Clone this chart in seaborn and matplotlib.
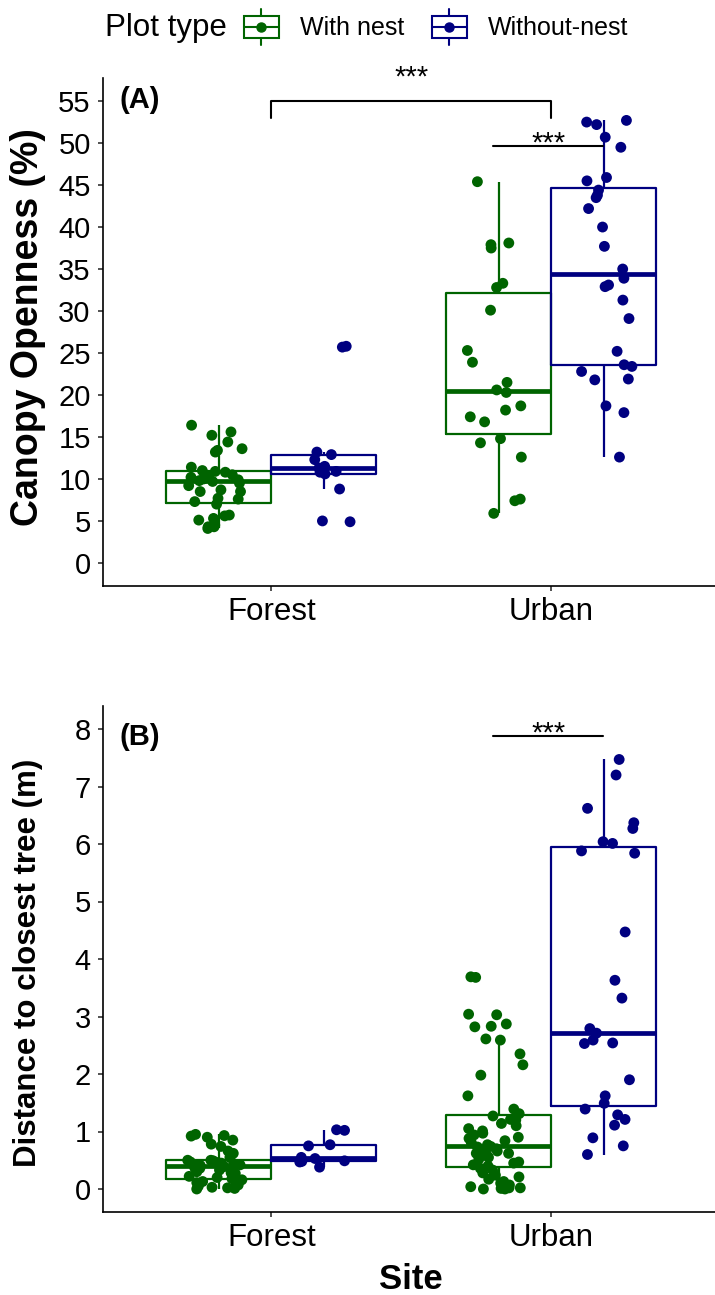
import numpy as np
import pandas as pd
import matplotlib
matplotlib.use("Agg")
import matplotlib.pyplot as plt
import seaborn as sns
from matplotlib.legend_handler import HandlerBase
from matplotlib.patches import Rectangle
from matplotlib.lines import Line2D

# ---- data -------------------------------------------------------------
sites = ["Forest", "Urban"]
plot_types = ["With nest", "Without-nest"]
type_colors = ["#006400", "#000080"]

# Canopy openness (%)
canopy_forest_nest = [16.4, 15.6, 15.2, 14.4, 13.6, 13.4, 13.2, 11.4, 11.0, 10.9,
                      10.8, 10.5, 10.3, 10.2, 10.0, 9.9, 9.8, 9.7, 9.5, 9.2,
                      8.7, 8.5, 8.5, 7.7, 7.6, 7.3, 7.0, 5.7, 5.6, 5.3,
                      5.1, 4.5, 4.3, 4.3, 4.1]
canopy_forest_nonest = [25.8, 25.7, 13.2, 12.9, 12.3, 11.5, 11.3, 10.9, 10.8,
                        10.6, 8.8, 5.0, 4.9]
canopy_urban_nest = [45.4, 38.1, 37.9, 37.5, 33.3, 32.8, 30.1, 25.3, 23.9, 21.5,
                     20.6, 20.3, 18.7, 18.2, 17.4, 16.8, 14.8, 14.3, 12.6, 7.6,
                     7.4, 5.9]
canopy_urban_nonest = [52.7, 52.5, 52.2, 50.7, 49.5, 45.9, 45.5, 44.4, 43.8, 43.5,
                       42.2, 40.0, 37.7, 35.0, 33.9, 33.1, 32.9, 31.3, 29.1, 25.2,
                       23.6, 23.4, 22.8, 21.9, 21.8, 18.7, 17.9, 12.6]

# Distance to closest tree (m)
dist_forest_nest = [0.95, 0.93, 0.92, 0.90, 0.85, 0.78, 0.74, 0.66, 0.62, 0.55,
                    0.50, 0.50, 0.49, 0.47, 0.46, 0.45, 0.44, 0.42, 0.42, 0.41,
                    0.39, 0.37, 0.36, 0.33, 0.30, 0.28, 0.27, 0.22, 0.20, 0.18,
                    0.16, 0.13, 0.11, 0.09, 0.07, 0.05, 0.03, 0.02, 0.01, 0.00]
dist_forest_nonest = [1.03, 1.02, 0.77, 0.75, 0.55, 0.53, 0.49, 0.48, 0.47, 0.38]
dist_urban_nest = [3.69, 3.68, 3.04, 3.03, 2.87, 2.83, 2.82, 2.61, 2.59, 2.35,
                   2.16, 1.98, 1.62, 1.39, 1.31, 1.27, 1.21, 1.20, 1.14, 1.10,
                   1.05, 1.01, 0.97, 0.94, 0.90, 0.88, 0.84, 0.81, 0.77, 0.74,
                   0.73, 0.70, 0.66, 0.63, 0.62, 0.62, 0.61, 0.58, 0.55, 0.52,
                   0.47, 0.45, 0.42, 0.40, 0.36, 0.33, 0.28, 0.24, 0.21, 0.17,
                   0.13, 0.10, 0.07, 0.04, 0.02, 0.02, 0.01, 0.00, 0.00]
dist_urban_nonest = [7.47, 7.20, 6.62, 6.37, 6.27, 6.04, 6.01, 5.88, 5.84, 4.47,
                     3.63, 3.32, 2.79, 2.71, 2.59, 2.54, 2.53, 1.90, 1.62, 1.49,
                     1.39, 1.29, 1.21, 1.11, 0.89, 0.75, 0.60]

canopy_ticks = list(range(0, 56, 5))
dist_ticks = list(range(0, 9))


def long_frame(groups):
    rows = []
    for (site, ptype), values in groups.items():
        rows.extend((site, ptype, v) for v in values)
    return pd.DataFrame(rows, columns=["Site", "Plot type", "value"])


canopy = long_frame({
    ("Forest", "With nest"): canopy_forest_nest,
    ("Forest", "Without-nest"): canopy_forest_nonest,
    ("Urban", "With nest"): canopy_urban_nest,
    ("Urban", "Without-nest"): canopy_urban_nonest,
})
distance = long_frame({
    ("Forest", "With nest"): dist_forest_nest,
    ("Forest", "Without-nest"): dist_forest_nonest,
    ("Urban", "With nest"): dist_urban_nest,
    ("Urban", "Without-nest"): dist_urban_nonest,
})

# ---- style ------------------------------------------------------------
sns.set_style("ticks")
plt.rcParams["font.family"] = ["Liberation Sans", "DejaVu Sans"]
plt.rcParams["axes.linewidth"] = 1.2
plt.rcParams["text.color"] = "black"
plt.rcParams["axes.labelcolor"] = "black"
plt.rcParams["xtick.color"] = "black"
plt.rcParams["ytick.color"] = "black"

W, H = 715, 1295
fig = plt.figure(figsize=(W / 100, H / 100), dpi=100)


def px_axes(left, top, width, bottom):
    return fig.add_axes([left / W, 1 - bottom / H, width / W, (bottom - top) / H])


axA = px_axes(103.3, 78, 616, 586)
axB = px_axes(103.3, 706, 616, 1212)

np.random.seed(7)


def draw_panel(ax, df, ylim, yticks, ylabel, ylabel_size, ylabel_y, tag, tag_y):
    sns.boxplot(data=df, x="Site", y="value", hue="Plot type", order=sites,
                hue_order=plot_types, palette=type_colors, fill=False,
                width=0.75, gap=0, showfliers=False, showcaps=False, whis=1.5,
                linewidth=1.6, medianprops=dict(linewidth=3.4), legend=False,
                ax=ax)
    sns.stripplot(data=df, x="Site", y="value", hue="Plot type", order=sites,
                  hue_order=plot_types, palette=type_colors, dodge=True,
                  jitter=0.2, size=7.8, linewidth=0, legend=False, ax=ax,
                  zorder=3)
    ax.set_xlim(-0.6, 1.6)
    ax.set_ylim(*ylim)
    ax.set_yticks(yticks)
    sns.despine(ax=ax)
    for side in ("left", "bottom"):
        ax.spines[side].set_color("black")
        ax.spines[side].set_linewidth(1.2)
    ax.tick_params(axis="both", length=3.6, width=1.2, color="#333333",
                   labelcolor="black")
    ax.tick_params(axis="y", labelsize=21, pad=5.5)
    ax.tick_params(axis="x", labelsize=22.5, pad=4.5)
    ax.set_ylabel(ylabel, fontsize=ylabel_size, fontweight="bold")
    ax.yaxis.label.set_va("center")
    ax.yaxis.set_label_coords(-0.122, ylabel_y)
    ax.set_xlabel("")
    ax.text(0.027, tag_y, tag, transform=ax.transAxes, ha="left", va="center",
            fontsize=21, fontweight="bold")


draw_panel(axA, canopy, (-2.75, 57.75), canopy_ticks, "Canopy Openness (%)",
           27, 0.51, "(A)", 0.956)
draw_panel(axB, distance, (-0.4, 8.4), dist_ticks, "Distance to closest tree (m)",
           22.5, 0.492, "(B)", 0.939)

axB.set_xlabel("Site", fontsize=25, fontweight="bold")
axB.xaxis.label.set_va("center")
axB.xaxis.set_label_coords(0.5, -0.134)


# significance brackets
def stars(ax, x, y, rise):
    ax.annotate("***", xy=(x, y), xytext=(0, rise), textcoords="offset points",
                ha="center", va="baseline", fontsize=21, annotation_clip=False)


axA.plot([0, 0, 1, 1], [53.0, 55.0, 55.0, 53.0], color="black", lw=1.5,
         clip_on=False)
stars(axA, 0.5, 55.0, 11)
axA.plot([0.79, 1.184], [49.7, 49.7], color="black", lw=1.5)
stars(axA, 0.99, 49.7, -4)
axB.plot([0.79, 1.184], [7.87, 7.87], color="black", lw=1.5, clip_on=False)
stars(axB, 0.99, 7.87, -4)


# ---- legend -----------------------------------------------------------
class BoxKey(HandlerBase):
    def create_artists(self, legend, orig_handle, xdescent, ydescent, width,
                       height, fontsize, trans):
        c = orig_handle.get_color()
        x0, y0 = -xdescent, -ydescent
        cx, cy = x0 + width / 2, y0 + height / 2
        bw, bh = width * 0.9, height * 0.62
        box = Rectangle((cx - bw / 2, cy - bh / 2), bw, bh, fill=False,
                        edgecolor=c, lw=1.5, transform=trans)
        mid = Line2D([cx - bw / 2, cx + bw / 2], [cy, cy], color=c, lw=1.5,
                     transform=trans)
        top = Line2D([cx, cx], [cy + bh / 2, y0 + height * 1.02], color=c,
                     lw=1.5, transform=trans)
        bot = Line2D([cx, cx], [cy - bh / 2, y0 - height * 0.02], color=c,
                     lw=1.5, transform=trans)
        dot = Line2D([cx], [cy], marker="o", ms=6.5, color=c, lw=0,
                     transform=trans)
        return [box, mid, top, bot, dot]


handles = [Line2D([], [], color=c) for c in type_colors]
fig.legend(handles=handles, labels=plot_types, handler_map={Line2D: BoxKey()},
           ncol=2, loc="center left", bbox_to_anchor=(242 / W, 1 - 27 / H),
           frameon=False, fontsize=18, handlelength=1.55, handleheight=1.75,
           handletextpad=0.75, columnspacing=1.05, borderpad=0, borderaxespad=0)
fig.text(105 / W, 1 - 28 / H, "Plot type", ha="left", va="center", fontsize=22.5)

fig.savefig("out.png", dpi=100)
